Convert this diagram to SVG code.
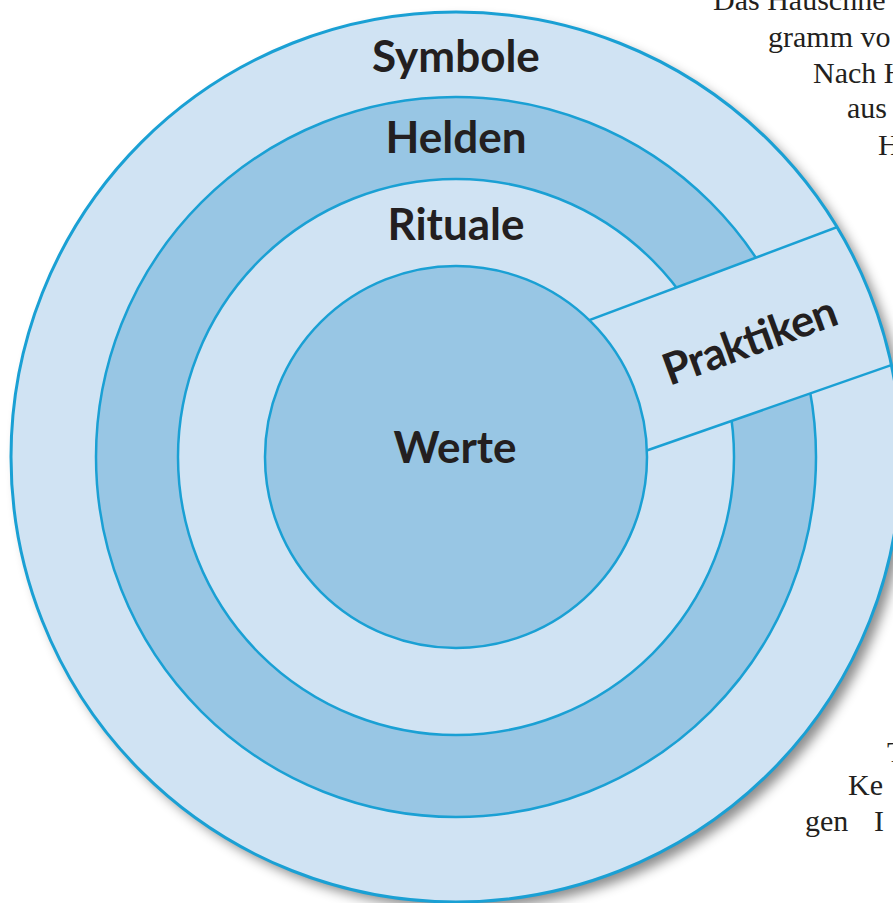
<svg xmlns="http://www.w3.org/2000/svg" width="893" height="903" viewBox="0 0 893 903">
<style>
.light{fill:#d0e3f3;}
.dark{fill:#98c6e4;}
.ln{stroke:#1aa0d4;stroke-width:2.5;}
.lbl{font-family:Lato,"Open Sans",sans-serif;font-weight:700;font-size:44px;fill:#231f20;text-anchor:middle;}
.page{font-family:"Liberation Serif","Times New Roman",serif;font-size:30px;fill:#231f20;}
</style>
<defs>
<filter id="shadow" x="-10%" y="-10%" width="125%" height="125%">
<feGaussianBlur in="SourceAlpha" stdDeviation="6"/>
<feOffset dx="7" dy="7" result="b"/>
<feFlood flood-color="#000" flood-opacity="0.45"/>
<feComposite in2="b" operator="in" result="s"/>
<feMerge><feMergeNode in="s"/><feMergeNode in="SourceGraphic"/></feMerge>
</filter>
<clipPath id="outerClip"><circle cx="456" cy="457" r="445"/></clipPath>
</defs>
<rect width="893" height="903" fill="#ffffff"/>
<g id="page-text" class="page">
<text x="713" y="10">Das Hauschne</text>
<text x="768" y="47">gramm vo</text>
<text x="813" y="83">Nach H</text>
<text x="847" y="118">aus</text>
<text x="878" y="155">H</text>
<text x="887" y="762">T</text>
<text x="848" y="795">Ke</text>
<text x="805" y="831">gen</text>
<text x="874" y="831">I</text>
</g>
<g id="symbole">
<circle cx="456" cy="457" r="445" class="light" filter="url(#shadow)"/>
</g>
<g id="helden">
<circle cx="456" cy="457" r="360" class="dark ln"/>
</g>
<g id="rituale">
<circle cx="456" cy="457" r="278" class="light ln"/>
</g>
<g id="praktiken">
<g clip-path="url(#outerClip)">
<polygon points="540,338.7 900,203.5 920,355.1 560,480.8" class="light"/>
<line x1="540" y1="338.7" x2="900" y2="203.5" class="ln"/>
<line x1="560" y1="480.8" x2="920" y2="355.1" class="ln"/>
</g>
<text class="lbl" x="755" y="355" transform="rotate(-20 755 355)" textLength="182">Praktiken</text>
</g>
<g id="werte">
<circle cx="456" cy="457" r="191" class="dark ln"/>
<text class="lbl" x="455" y="463">Werte</text>
</g>
<g id="outer-ring">
<circle cx="456" cy="457" r="445" fill="none" stroke="#1aa0d4" stroke-width="3"/>
<text class="lbl" x="456" y="72">Symbole</text>
<text class="lbl" x="456" y="153">Helden</text>
<text class="lbl" x="456" y="240">Rituale</text>
</g>
</svg>
